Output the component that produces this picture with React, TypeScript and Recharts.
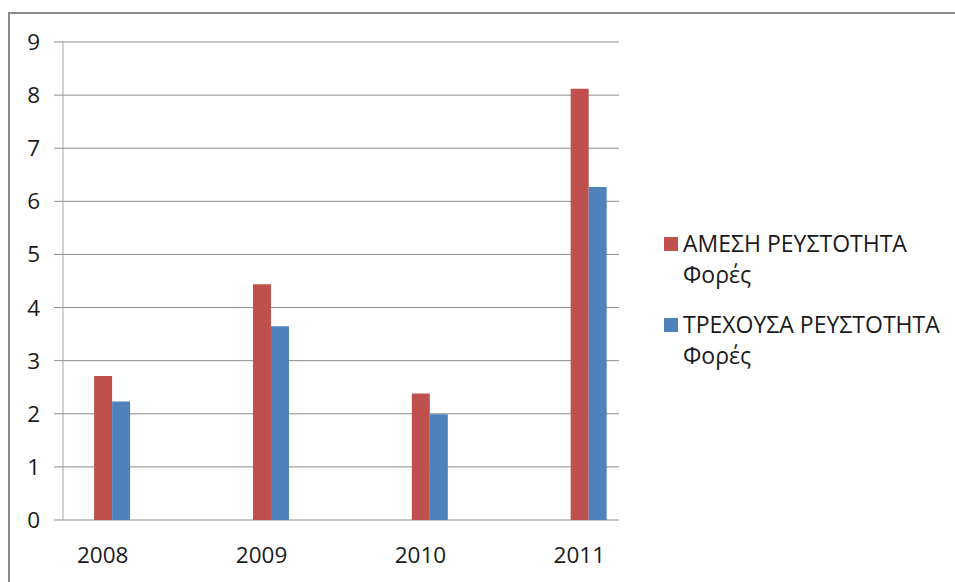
import React from "react";
import {
  BarChart,
  Bar,
  XAxis,
  YAxis,
  CartesianGrid,
  Legend,
} from "recharts";

// blank rows between the years are in the source sheet too
const years = ["2008", "", "2009", "", "2010", "", "2011"];
const amesi = [2.71, null, 4.44, null, 2.38, null, 8.12];
const trexousa = [2.23, null, 3.65, null, 1.99, null, 6.27];
const yTicks = [0, 1, 2, 3, 4, 5, 6, 7, 8, 9];

const seriesNames = ["ΑΜΕΣΗ ΡΕΥΣΤΟΤΗΤΑ Φορές", "ΤΡΕΧΟΥΣΑ ΡΕΥΣΤΟΤΗΤΑ Φορές"];
const seriesColors = ["#C0504D", "#4F81BD"];

const data = years.map((year, i) => ({
  year,
  blank: null,
  amesi: amesi[i],
  trexousa: trexousa[i],
}));

const edgeTicks = Array.from({ length: years.length + 1 }, (_, i) => i);

const FONT = "'Open Sans', sans-serif";
const GRID = "#8c8c8c";
const TEXT = "#1a1a1a";

const LegendBox = () => (
  <div style={{ fontFamily: FONT, fontSize: 23, color: TEXT }}>
    {seriesNames.map((name, i) => (
      <div
        key={name}
        style={{ display: "flex", alignItems: "flex-start", marginBottom: 19 }}
      >
        <div
          style={{
            width: 14,
            height: 14,
            background: seriesColors[i],
            marginTop: 9,
            marginRight: 5,
            flexShrink: 0,
          }}
        />
        <div style={{ width: 264, lineHeight: "31px" }}>{name}</div>
      </div>
    ))}
  </div>
);

const App: React.FC = () => {
  return (
    <div
      style={{
        position: "absolute",
        left: 0,
        top: 0,
        width: 955,
        height: 582,
        background: "#fff",
        overflow: "hidden",
      }}
    >
      <div
        style={{
          position: "absolute",
          left: 8,
          top: 12,
          right: 0,
          bottom: 0,
          borderTop: "2px solid #8a8a8a",
          borderLeft: "2px solid #8a8a8a",
        }}
      />
      <BarChart
        width={955}
        height={582}
        data={data}
        margin={{ top: 42, right: 336, left: 0, bottom: 0 }}
        barCategoryGap="16.5%"
        barGap={0}
        style={{ fontFamily: FONT, position: "absolute", left: 0, top: 0 }}
      >
        <CartesianGrid horizontal vertical={false} stroke={GRID} />
        <XAxis
          xAxisId="edge"
          type="number"
          domain={[0, years.length]}
          ticks={edgeTicks}
          tick={false}
          tickSize={9}
          tickLine={{ stroke: "#999999" }}
          axisLine={{ stroke: GRID }}
          height={0}
        />
        <XAxis
          xAxisId="cat"
          dataKey="year"
          interval={0}
          tickLine={false}
          axisLine={false}
          tickSize={0}
          tickMargin={27}
          height={62}
          tick={{ fill: TEXT, fontSize: 22.5 }}
        />
        <YAxis
          width={63}
          domain={[0, 9]}
          ticks={yTicks}
          interval={0}
          tickSize={9}
          tickMargin={14}
          tickLine={{ stroke: GRID }}
          axisLine={{ stroke: "#a6a6a6" }}
          tick={{ fill: TEXT, fontSize: 22.5 }}
        />
        <Legend
          layout="horizontal"
          verticalAlign="middle"
          align="center"
          content={<LegendBox />}
          wrapperStyle={{ left: 664, top: 228, width: 290 }}
        />
        <Bar
          xAxisId="cat"
          dataKey="blank"
          fill="#9BBB59"
          legendType="none"
          isAnimationActive={false}
        />
        <Bar
          xAxisId="cat"
          dataKey="amesi"
          name={seriesNames[0]}
          fill={seriesColors[0]}
          isAnimationActive={false}
        />
        <Bar
          xAxisId="cat"
          dataKey="trexousa"
          name={seriesNames[1]}
          fill={seriesColors[1]}
          isAnimationActive={false}
        />
      </BarChart>
    </div>
  );
};

export default App;
